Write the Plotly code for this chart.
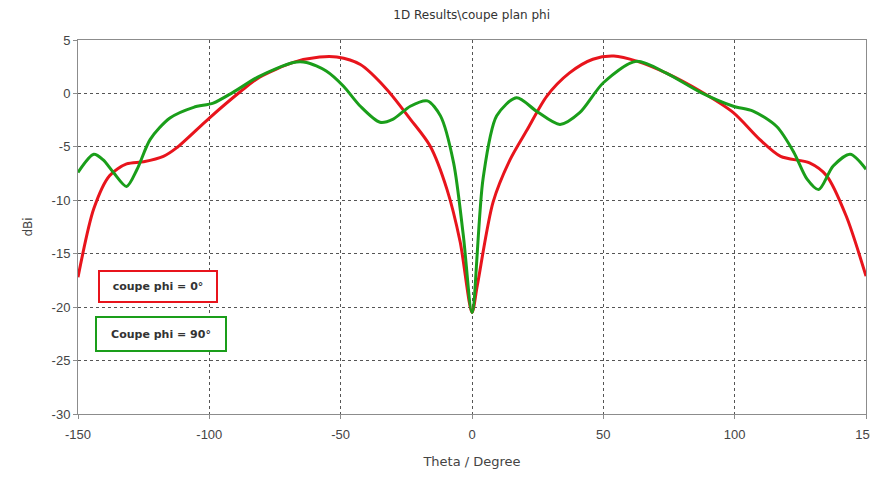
import plotly.graph_objects as go

# theta (deg) and gain (dBi)
theta_phi0 = [-150, -144, -138, -131.5, -125, -117.5, -112.5, -100, -88, -81, -68, -58, -51.5,
              -42.5, -32.5, -23.5, -16, -9.5, -4.5, 0, 2, 8, 14.5, 21, 28.5, 37, 46, 54, 63,
              74, 87, 99.5, 109.5, 117.5, 128.5, 135, 142.5, 150]
gain_phi0 = [-17.2, -10.8, -7.7, -6.6, -6.4, -5.9, -5.1, -2.3, 0.2, 1.5, 2.9, 3.4, 3.4,
             2.7, 0.4, -2.4, -4.9, -9.0, -13.9, -20.5, -18.0, -10.2, -6.2, -3.4, -0.25, 1.9, 3.2, 3.5, 3.0,
             1.9, 0.2, -1.8, -4.3, -5.9, -6.5, -7.7, -11.5, -17.1]

theta_phi90 = [-150, -144, -140.5, -136.5, -131.5, -127.5, -122.5, -115, -106, -98.5, -91, -81,
               -68, -63, -55.5, -49, -42.5, -35, -30, -23.5, -17, -12, -7, -3.3, 0, 4.2, 9.4,
               17, 24.5, 33.5, 41, 50, 62.5, 74, 87, 99.5, 107, 116, 122.5, 127.5, 132, 137.5,
               144, 150]
gain_phi90 = [-7.4, -5.7, -6.2, -7.4, -8.7, -7.1, -4.3, -2.3, -1.3, -0.9, 0.1, 1.6,
              2.9, 2.9, 2.1, 0.7, -1.2, -2.7, -2.4, -1.2, -0.7, -2.1, -6.5, -13.3, -20.5, -8.0, -2.1,
              -0.4, -1.65, -2.9, -1.8, 1.0, 3.0, 1.9, 0.1, -1.2, -1.65, -3.1, -5.5, -8.0, -9.0, -6.8,
              -5.7, -7.1]

x_ticks = [-150, -100, -50, 0, 50, 100, 150]
x_tick_labels = ["-150", "-100", "-50", "0", "50", "100", "150"]
y_ticks = [5, 0, -5, -10, -15, -20, -25, -30]
y_tick_labels = ["5", "0", "-5", "-10", "-15", "-20", "-25", "-30"]

fig = go.Figure()
fig.add_trace(go.Scatter(x=theta_phi0, y=gain_phi0, mode="lines", name="coupe phi = 0°",
                         line=dict(color="#e8141c", width=3, shape="spline", smoothing=0.8)))
fig.add_trace(go.Scatter(x=theta_phi90, y=gain_phi90, mode="lines", name="Coupe phi = 90°",
                         line=dict(color="#1a9e1a", width=3, shape="spline", smoothing=0.8)))

axis_common = dict(
    showline=True, linecolor="#8c8c8c", linewidth=1, mirror=True,
    showgrid=True, gridcolor="#555555", griddash="dot", gridwidth=1,
    ticks="outside", ticklen=4, tickcolor="#8c8c8c",
    tickfont=dict(family="Liberation Sans", size=13, color="#444444"),
    zeroline=False, automargin=False, ticklabeloverflow="allow",
)

# page has an 8px body margin on every side, so the figure is smaller than the window
fig.update_layout(
    width=870, height=461,
    paper_bgcolor="white", plot_bgcolor="white",
    margin=dict(l=70, r=12, t=32, b=55),
    showlegend=False,
    title=dict(text="1D Results\\coupe plan phi", x=0.533, xanchor="center", y=0.995, yanchor="top",
               font=dict(family="DejaVu Sans", size=12, color="#333333")),
    xaxis=dict(range=[-150, 150], tickvals=x_ticks, ticktext=x_tick_labels, ticklabelstandoff=4,
               title=dict(text="Theta / Degree", standoff=18,
                          font=dict(family="DejaVu Sans", size=13, color="#444444")),
               **axis_common),
    yaxis=dict(range=[-30, 5], tickvals=y_ticks, ticktext=y_tick_labels,
               title=dict(text="dBi", standoff=16,
                          font=dict(family="DejaVu Sans", size=12, color="#444444")),
               **axis_common),
    annotations=[
        dict(x=0.1015, y=0.342, xref="paper", yref="paper", xanchor="center", yanchor="middle",
             text="<b>coupe phi = 0°</b>",
             showarrow=False, bgcolor="white", bordercolor="#e8141c", borderwidth=2,
             width=114, height=27, font=dict(family="DejaVu Sans", size=11, color="#333333")),
        dict(x=0.105, y=0.214, xref="paper", yref="paper", xanchor="center", yanchor="middle",
             text="<b>Coupe phi = 90°</b>",
             showarrow=False, bgcolor="white", bordercolor="#1a9e1a", borderwidth=2,
             width=126, height=30, font=dict(family="DejaVu Sans", size=11, color="#333333")),
    ],
)

fig.write_html("out.html")
